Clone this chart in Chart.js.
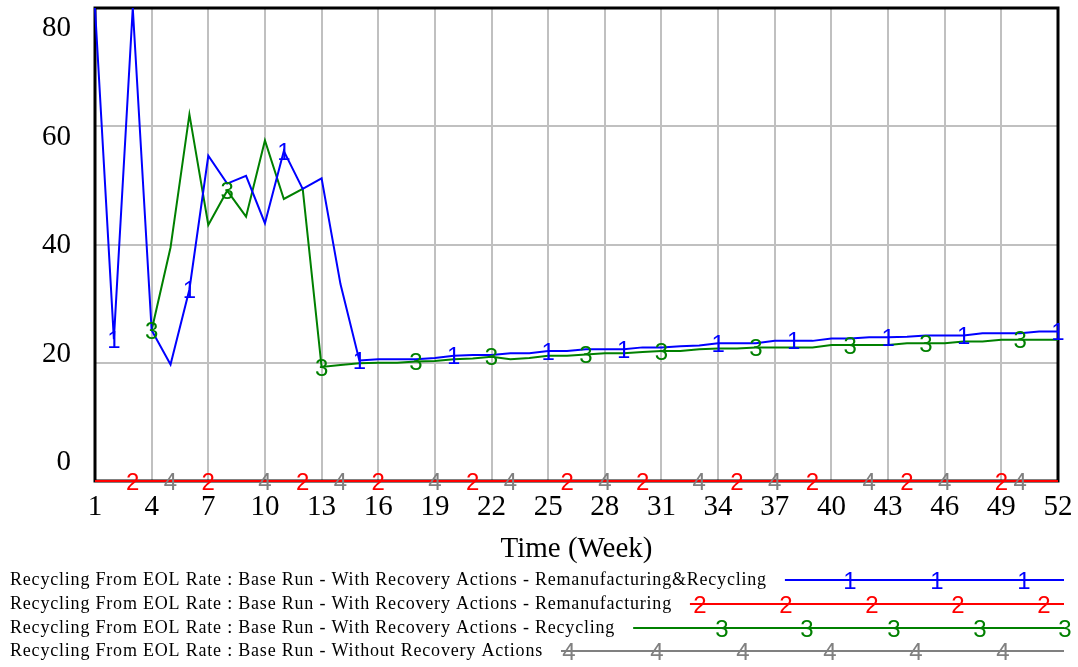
<!DOCTYPE html>
<html>
<head>
<meta charset="utf-8">
<script src="https://cdn.jsdelivr.net/npm/chart.js@4/dist/chart.umd.min.js"></script>
<style>
  body { margin: 0; background: #fff; }
  canvas { display: block; }
</style>
</head>
<body>
<canvas id="c" width="1078" height="667"></canvas>
<script>
// weeks 1..52
const weeks = [1,2,3,4,5,6,7,8,9,10,11,12,13,14,15,16,17,18,19,20,21,22,23,24,25,26,
  27,28,29,30,31,32,33,34,35,36,37,38,39,40,41,42,43,44,45,46,47,48,49,50,51,52];
const xTicks = [1,4,7,10,13,16,19,22,25,28,31,34,37,40,43,46,49,52];
const yTicks = [0,20,40,60,80];

// 1 : With Recovery Actions - Remanufacturing&Recycling
const remanRecycling = [80,24,80,25.5,19.7,32.4,55.0,50.3,51.6,43.6,55.8,49.4,51.2,33.3,20.4,20.6,
  20.6,20.6,20.8,21.2,21.3,21.3,21.6,21.6,22.0,22.0,22.3,22.3,22.3,22.6,22.6,22.8,22.9,23.3,23.3,
  23.3,23.7,23.7,23.7,24.1,24.1,24.3,24.3,24.4,24.6,24.6,24.6,25.0,25.0,25.0,25.3,25.3];
// 2 : With Recovery Actions - Remanufacturing
const reman = [0,0,0,0,0,0,0,0,0,0,0,0,0,0,0,0,0,0,0,0,0,0,0,0,0,0,
  0,0,0,0,0,0,0,0,0,0,0,0,0,0,0,0,0,0,0,0,0,0,0,0,0,0];
// 3 : With Recovery Actions - Recycling
const recycling = [null,null,null,25.5,39.5,62.0,43.3,49.1,44.7,57.6,47.7,49.4,19.3,19.6,19.9,20.0,
  20.0,20.2,20.3,20.6,20.7,21.0,20.6,20.8,21.2,21.2,21.4,21.6,21.6,21.8,22.0,22.0,22.3,22.4,22.4,
  22.6,22.6,22.6,22.6,23.0,23.0,23.0,23.0,23.3,23.3,23.3,23.6,23.6,23.9,23.9,23.9,23.9];
// 4 : Without Recovery Actions
const noRecovery = [0,0,0,0,0,0,0,0,0,0,0,0,0,0,0,0,0,0,0,0,0,0,0,0,0,0,
  0,0,0,0,0,0,0,0,0,0,0,0,0,0,0,0,0,0,0,0,0,0,0,0,0,0];

// weeks where vensim puts the series number on the line
const marks1 = [2,6,11,15,20,25,29,34,38,43,47,52];
const marks2 = [3,7,12,16,21,26,30,35,39,44,49];
const marks3 = [4,8,13,18,22,27,31,36,41,45,50];
const marks4 = [5,10,14,19,23,28,33,37,42,46,50];

const labels = [
  'Recycling From EOL Rate : Base Run - With Recovery Actions - Remanufacturing&Recycling',
  'Recycling From EOL Rate : Base Run - With Recovery Actions - Remanufacturing',
  'Recycling From EOL Rate : Base Run - With Recovery Actions - Recycling',
  'Recycling From EOL Rate : Base Run - Without Recovery Actions'
];

const SERIF = '"Liberation Serif", "Times New Roman", serif';
const SANS = '"Liberation Sans", Arial, sans-serif';

// legend layout (vensim style)
const legendRowY = [580, 604, 628, 651];
const legendMarkX = [
  [850, 937, 1024],
  [700, 786, 872, 958, 1044],
  [722, 807, 894, 980, 1065],
  [569, 657, 743, 830, 916, 1003]
];

function toXY(arr) {
  return arr.map((v, i) => ({ x: weeks[i], y: v }));
}

function makeSet(label, arr, color, num, marks) {
  return {
    label: label,
    data: toXY(arr),
    borderColor: color,
    backgroundColor: color,
    borderWidth: 2,
    pointRadius: 0,
    tension: 0,
    clip: false,
    num: num,
    marks: marks
  };
}

const vensimPlugin = {
  id: 'vensim',
  beforeDatasetsDraw(chart) {
    const a = chart.chartArea, ctx = chart.ctx;
    ctx.save();
    ctx.strokeStyle = '#000';
    ctx.lineWidth = 3;
    ctx.strokeRect(a.left, a.top, a.right - a.left, a.bottom - a.top);
    ctx.restore();
  },
  afterDatasetsDraw(chart) {
    const ctx = chart.ctx;
    ctx.save();
    ctx.font = '24px ' + SANS;
    ctx.textAlign = 'center';
    ctx.textBaseline = 'middle';
    chart.data.datasets.forEach((ds, di) => {
      const meta = chart.getDatasetMeta(di);
      ctx.fillStyle = ds.borderColor;
      ds.marks.forEach(w => {
        const pt = meta.data[weeks.indexOf(w)];
        if (pt && !pt.skip) ctx.fillText(ds.num, pt.x, pt.y + 2);
      });
    });
    ctx.restore();
  },
  afterDraw(chart) {
    const ctx = chart.ctx, a = chart.chartArea, y = chart.scales.y;
    const H = a.bottom - a.top;
    ctx.save();
    // y labels, spread inside the frame like vensim does
    ctx.font = '29px ' + SERIF;
    ctx.fillStyle = '#000';
    ctx.textAlign = 'right';
    ctx.textBaseline = 'middle';
    yTicks.forEach(v => {
      const p = y.getPixelForValue(v);
      const ly = a.top + 20.5 + (p - a.top) * (H - 39) / H;
      ctx.fillText(String(v), 71, ly);
    });
    // legend
    chart.data.datasets.forEach((ds, i) => {
      const ry = legendRowY[i];
      ctx.font = '18px ' + SERIF;
      ctx.letterSpacing = '0.8px';
      ctx.textAlign = 'left';
      ctx.fillStyle = '#000';
      ctx.fillText(ds.label, 10, ry);
      const w = ctx.measureText(ds.label).width;
      ctx.letterSpacing = '0px';
      ctx.strokeStyle = ds.borderColor;
      ctx.lineWidth = 2;
      ctx.beginPath();
      ctx.moveTo(10 + w + 18, ry);
      ctx.lineTo(1064, ry);
      ctx.stroke();
      ctx.font = '24px ' + SANS;
      ctx.textAlign = 'center';
      ctx.fillStyle = ds.borderColor;
      legendMarkX[i].forEach(mx => ctx.fillText(ds.num, mx, ry + 2));
    });
    ctx.restore();
  }
};

new Chart(document.getElementById('c'), {
  type: 'line',
  data: {
    datasets: [
      makeSet(labels[0], remanRecycling, '#0000ff', '1', marks1),
      makeSet(labels[1], reman, '#ff0000', '2', marks2),
      makeSet(labels[2], recycling, '#008000', '3', marks3),
      makeSet(labels[3], noRecovery, '#808080', '4', marks4)
    ]
  },
  options: {
    responsive: false,
    animation: false,
    layout: { padding: { left: 95, right: 20, top: 8, bottom: 100 } },
    plugins: { legend: { display: false }, tooltip: { enabled: false } },
    scales: {
      x: {
        type: 'linear',
        min: 1,
        max: 52,
        afterBuildTicks: s => { s.ticks = xTicks.map(v => ({ value: v })); },
        afterFit: s => { s.height = 86; s.paddingLeft = 0; s.paddingRight = 0; },
        grid: { color: '#c0c0c0', lineWidth: 2, drawTicks: false },
        border: { display: false },
        ticks: {
          color: '#000',
          font: { family: SERIF, size: 29 },
          padding: 9,
          maxRotation: 0,
          autoSkip: false
        },
        title: {
          display: true,
          text: 'Time (Week)',
          color: '#000',
          font: { family: SERIF, size: 29 },
          padding: { top: 6, bottom: 0 }
        }
      },
      y: {
        min: 0,
        max: 80,
        afterBuildTicks: s => { s.ticks = yTicks.map(v => ({ value: v })); },
        afterFit: s => { s.width = 0; s.paddingTop = 0; s.paddingBottom = 0; },
        grid: { color: '#c0c0c0', lineWidth: 2, drawTicks: false },
        border: { display: false },
        ticks: { display: false }
      }
    }
  },
  plugins: [vensimPlugin]
});
</script>
</body>
</html>
